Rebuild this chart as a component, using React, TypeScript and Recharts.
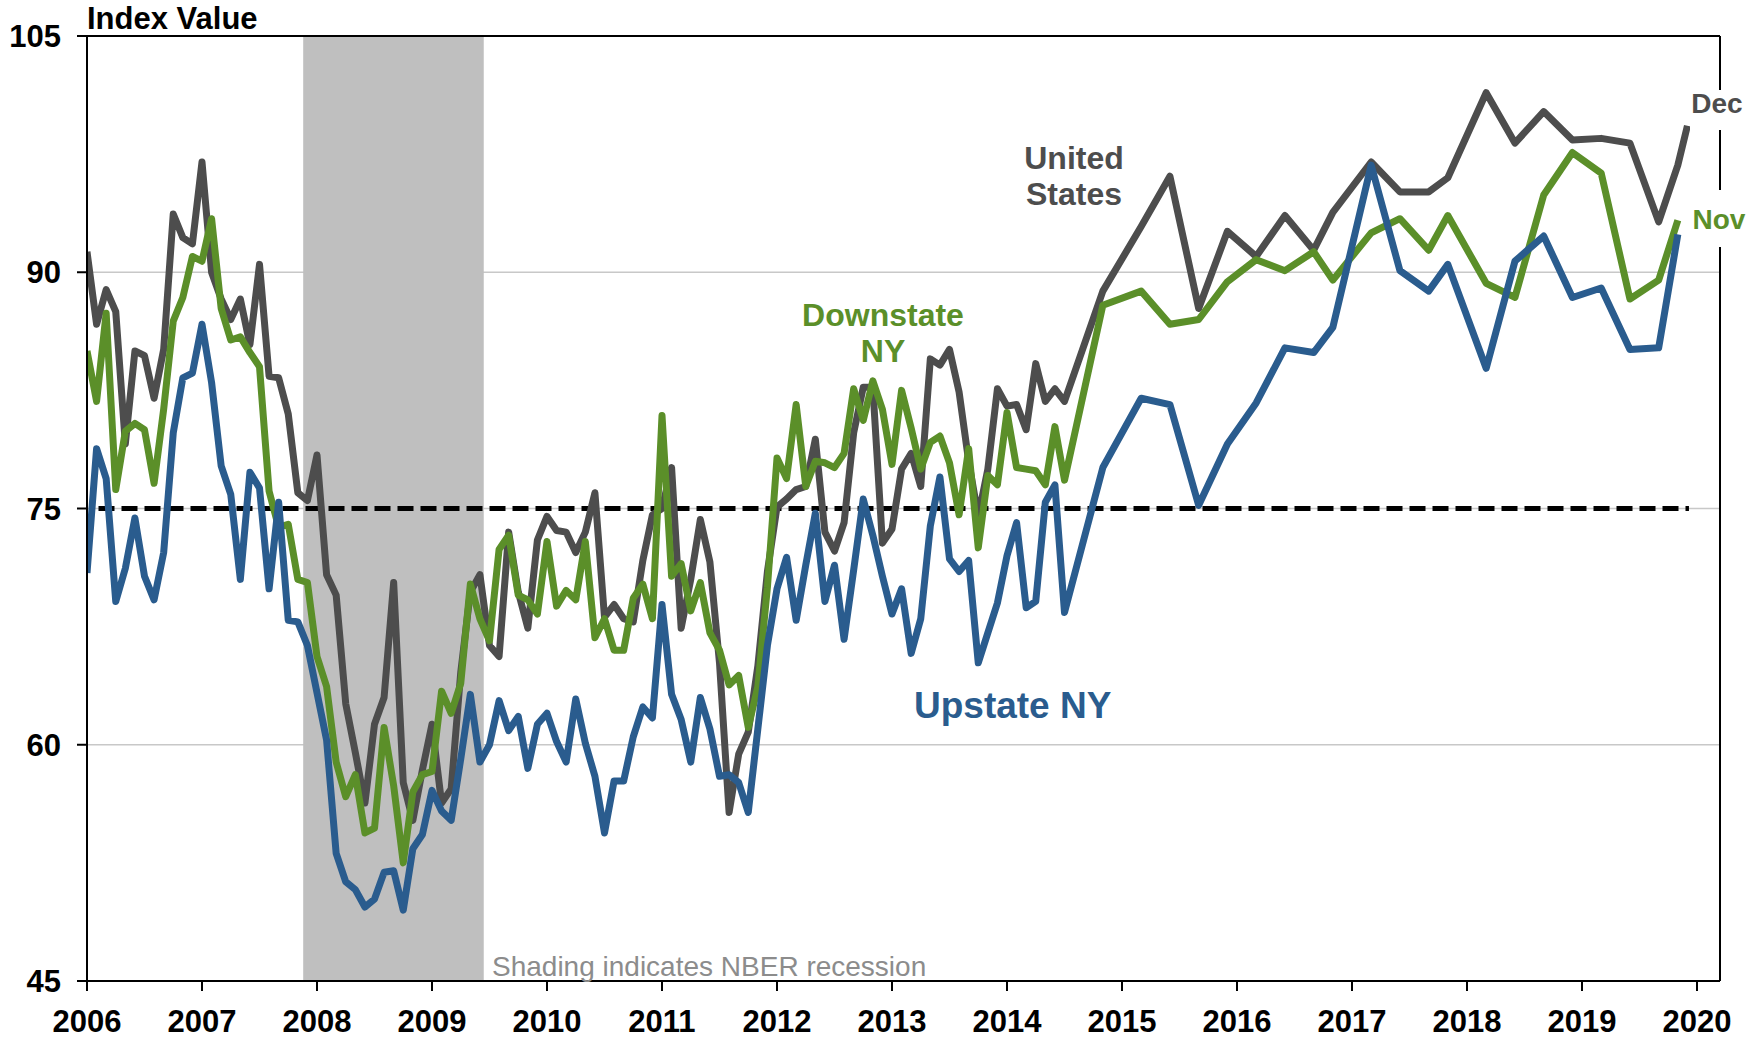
import React from "react";
import {
  LineChart,
  Line,
  XAxis,
  YAxis,
  CartesianGrid,
  ReferenceArea,
  ReferenceLine,
} from "recharts";

// Monthly readings, Jan 2006 - Jul 2014
const FIRST_YEAR = 2006;

const US_MONTHLY = [
  91.3, 86.7, 88.9, 87.5, 79.1, 85.0, 84.7, 82.0, 85.1, 93.7, 92.2, 91.8,
  97.0, 90.0, 88.3, 87.0, 88.3, 85.4, 90.5, 83.4, 83.3, 81.0, 76.0, 75.5,
  78.4, 70.8, 69.5, 62.6, 59.5, 56.3, 61.3, 63.0, 70.3, 57.6, 55.2, 58.4,
  61.3, 56.3, 57.2, 64.6, 69.7, 70.8, 66.3, 65.6, 73.5, 69.7, 67.4, 73.0,
  74.5, 73.6, 73.5, 72.2, 73.5, 76.0, 68.1, 68.9, 68.0, 67.8, 71.7, 74.6,
  75.0, 77.6, 67.4, 70.5, 74.3, 71.6, 65.2, 55.7, 59.4, 60.8, 65.0, 71.0,
  75.1, 75.6, 76.2, 76.4, 79.4, 73.5, 72.3, 74.1, 79.8, 82.7, 82.7, 72.8,
  73.7, 77.5, 78.5, 76.4, 84.5, 84.1, 85.1, 82.4, 78.0, 74.5, 77.5, 82.6,
  81.5, 81.6, 80.0, 84.2, 81.8, 82.6, 81.8,
];

const DOWNSTATE_MONTHLY = [
  85.0, 81.8, 87.4, 76.2, 79.9, 80.4, 80.0, 76.6, 81.3, 86.9, 88.4, 91.0,
  90.7, 93.4, 87.7, 85.7, 85.9, 84.9, 84.0, 76.1, 73.8, 74.0, 70.5, 70.3,
  65.6, 63.7, 58.9, 56.7, 58.1, 54.4, 54.7, 61.1, 57.4, 52.5, 57.0, 58.1,
  58.3, 63.4, 62.0, 63.9, 70.2, 68.0, 66.6, 72.4, 73.3, 69.5, 69.2, 68.3,
  72.9, 68.8, 69.8, 69.2, 72.9, 66.8, 68.0, 66.0, 66.0, 69.3, 70.2, 68.0,
  80.9, 70.7, 71.5, 68.5, 70.3, 67.1, 66.0, 63.8, 64.4, 61.1, 63.7, 70.0,
  78.2, 76.9, 81.6, 76.4, 78.0, 77.9, 77.6, 78.5, 82.6, 80.6, 83.1, 81.3,
  77.8, 82.5, 80.1, 77.5, 79.2, 79.6, 77.9, 74.6, 78.8, 72.5, 77.1, 76.5,
  81.1, 77.6, 77.5, 77.4, 76.5, 80.2, 76.8,
];

const UPSTATE_MONTHLY = [
  70.9, 78.8, 76.9, 69.1, 71.2, 74.4, 70.7, 69.2, 72.2, 79.8, 83.3, 83.6,
  86.7, 83.0, 77.7, 75.9, 70.5, 77.3, 76.3, 69.9, 75.4, 67.9, 67.8, 66.3,
  63.3, 60.3, 53.1, 51.3, 50.8, 49.7, 50.2, 51.9, 52.0, 49.5, 53.4, 54.3,
  57.1, 55.8, 55.2, 59.1, 63.2, 58.9, 60.0, 62.8, 60.9, 61.8, 58.5, 61.3,
  62.0, 60.2, 58.9, 62.9, 60.1, 58.0, 54.4, 57.7, 57.7, 60.5, 62.4, 61.7,
  68.9, 63.2, 61.6, 58.9, 63.0, 61.0, 58.0, 58.1, 57.6, 55.7, 61.0, 66.3,
  69.9, 71.9, 67.9, 71.4, 74.7, 69.1, 71.4, 66.7, 71.1, 75.6, 73.3, 70.7,
  68.3, 69.9, 65.8, 68.0, 73.9, 77.0, 71.8, 71.0, 71.7, 65.2, 67.1, 69.0,
  72.0, 74.1, 68.7, 69.1, 75.4, 76.5, 68.4,
];

// Less frequent readings from late 2014 on
const LATER_DATES = [
  "2014-11", "2015-03", "2015-06", "2015-09", "2015-12", "2016-03", "2016-06",
  "2016-09", "2016-11", "2017-03", "2017-06", "2017-09", "2017-11", "2018-03",
  "2018-06", "2018-09", "2018-12", "2019-03", "2019-06", "2019-09", "2019-11",
  "2019-12",
];
const US_LATER = [
  88.8, 92.9, 96.1, 87.7, 92.6, 91.0, 93.6, 91.4, 93.8, 97.0, 95.1, 95.1,
  96.0, 101.4, 98.2, 100.2, 98.4, 98.5, 98.2, 93.2, 96.8, 99.3,
];
const DOWNSTATE_LATER = [
  87.9, 88.8, 86.7, 87.0, 89.4, 90.8, 90.1, 91.3, 89.5, 92.5, 93.4, 91.4,
  93.6, 89.3, 88.4, 94.9, 97.6, 96.3, 88.3, 89.5, 93.3, null,
];
const UPSTATE_LATER = [
  77.6, 82.0, 81.6, 75.2, 79.1, 81.7, 85.2, 84.9, 86.5, 96.8, 90.1, 88.8,
  90.5, 83.9, 90.7, 92.3, 88.4, 89.0, 85.1, 85.2, 92.4, null,
];

const X_TICKS = [2006, 2007, 2008, 2009, 2010, 2011, 2012, 2013, 2014, 2015, 2016, 2017, 2018, 2019, 2020];
const Y_TICKS = [45, 60, 75, 90, 105];
const RECESSION = { start: 2007.88, end: 2009.45 };
const BASELINE = 75;

const FONT = '"Liberation Sans", Arial, sans-serif';
const GRAY = "#4d4d4d";
const GREEN = "#5b8f29";
const BLUE = "#2a5c8e";

const toYear = (d: string) => {
  const [y, m] = d.split("-").map(Number);
  return y + (m - 1) / 12;
};

const monthlyDates = US_MONTHLY.map(
  (_, i) => `${FIRST_YEAR + Math.floor(i / 12)}-${String((i % 12) + 1).padStart(2, "0")}`
);

const data = [
  ...monthlyDates.map((d, i) => ({
    t: toYear(d),
    us: US_MONTHLY[i],
    down: DOWNSTATE_MONTHLY[i],
    up: UPSTATE_MONTHLY[i],
  })),
  ...LATER_DATES.map((d, i) => ({
    t: toYear(d),
    us: US_LATER[i],
    down: DOWNSTATE_LATER[i],
    up: UPSTATE_LATER[i],
  })),
];

const W = 1763;
const H = 1038;
const LINE_W = 7;

export default function App() {
  const tickStyle = { fill: "#000", fontSize: 31, fontWeight: 700, fontFamily: FONT };
  const axisStroke = { stroke: "#000", strokeWidth: 2 };

  return (
    <div style={{ position: "absolute", left: 0, top: 0, width: W, height: H, background: "#fff" }}>
      <LineChart width={W} height={H} data={data} margin={{ top: 36, right: 43, bottom: 0, left: 0 }}>
        <CartesianGrid horizontal vertical={false} stroke="#c8c8c8" strokeWidth={1.5} />
        <ReferenceArea
          x1={RECESSION.start}
          x2={RECESSION.end}
          y1={45}
          y2={105}
          fill="#bfbfbf"
          fillOpacity={1}
          stroke="none"
        />
        <XAxis
          type="number"
          dataKey="t"
          domain={[2006, 2020.2]}
          ticks={X_TICKS}
          allowDataOverflow
          height={57}
          tickSize={10}
          tickMargin={19}
          axisLine={axisStroke}
          tickLine={axisStroke}
          tick={tickStyle}
        />
        <YAxis
          type="number"
          domain={[45, 105]}
          ticks={Y_TICKS}
          width={87}
          tickSize={10}
          tickMargin={16}
          axisLine={axisStroke}
          tickLine={axisStroke}
          tick={tickStyle}
        />
        <ReferenceLine
          segment={[
            { x: 2006.1, y: BASELINE },
            { x: 2019.93, y: BASELINE },
          ]}
          stroke="#000"
          strokeWidth={5}
          strokeDasharray="16 7"
        />
        <Line
          type="linear"
          dataKey="us"
          stroke={GRAY}
          strokeWidth={LINE_W}
          dot={false}
          strokeLinejoin="round"
          isAnimationActive={false}
        />
        <Line
          type="linear"
          dataKey="down"
          stroke={GREEN}
          strokeWidth={LINE_W}
          dot={false}
          strokeLinejoin="round"
          isAnimationActive={false}
        />
        <Line
          type="linear"
          dataKey="up"
          stroke={BLUE}
          strokeWidth={LINE_W}
          dot={false}
          strokeLinejoin="round"
          isAnimationActive={false}
        />
        <ReferenceLine y={105} stroke="#000" strokeWidth={2} />
        <ReferenceLine x={2020.2} stroke="#000" strokeWidth={2} />
      </LineChart>

      {/* annotations */}
      <svg
        width={W}
        height={H}
        style={{ position: "absolute", left: 0, top: 0, pointerEvents: "none" }}
        fontFamily={FONT}
        fontWeight={700}
      >
        <text x={87} y={29} fontSize={31} fill="#000">Index Value</text>
        <text x={1074} y={169} fontSize={32} fill={GRAY} textAnchor="middle">United</text>
        <text x={1074} y={205} fontSize={32} fill={GRAY} textAnchor="middle">States</text>
        <text x={883} y={326} fontSize={32} fill={GREEN} textAnchor="middle">Downstate</text>
        <text x={883} y={362} fontSize={32} fill={GREEN} textAnchor="middle">NY</text>
        <text x={914} y={718} fontSize={37} fill={BLUE}>Upstate NY</text>
        <rect x={1690} y={90} width={58} height={40} fill="#fff" />
        <text x={1717} y={113} fontSize={28} fill={GRAY} textAnchor="middle">Dec</text>
        <rect x={1690} y={190} width={60} height={57} fill="#fff" />
        <text x={1719} y={229} fontSize={28} fill={GREEN} textAnchor="middle">Nov</text>
        <text x={492} y={976} fontSize={28} fontWeight={400} fill="#8c8c8c">
          Shading indicates NBER recession
        </text>
      </svg>
    </div>
  );
}
